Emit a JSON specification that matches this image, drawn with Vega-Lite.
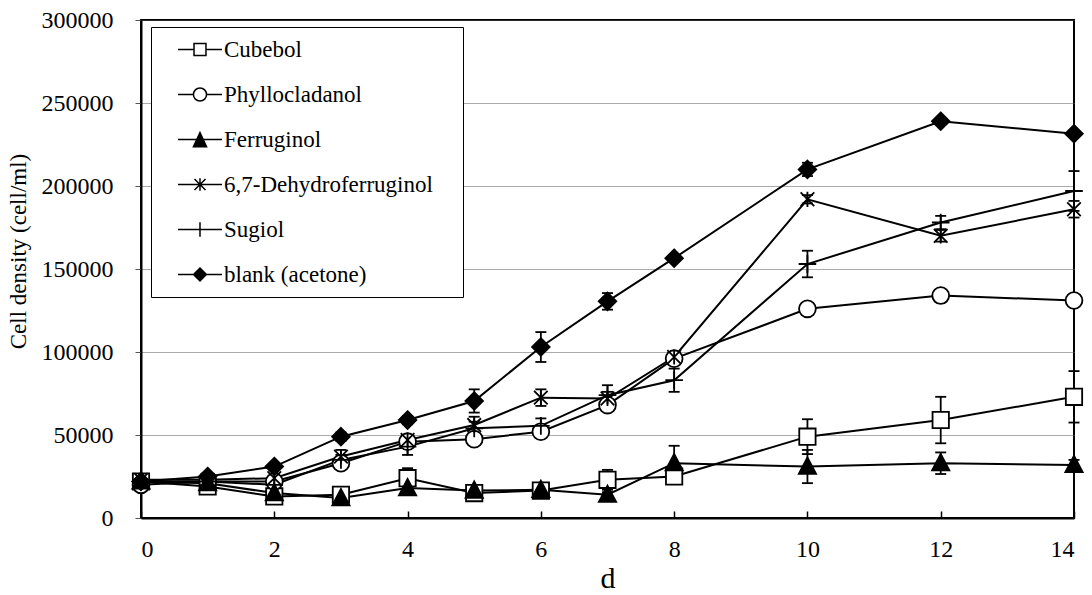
{
  "$schema": "https://vega.github.io/schema/vega-lite/v6.json",
  "width": 933,
  "height": 498,
  "autosize": {"type": "none"},
  "padding": {"left": 141, "top": 20, "right": 18, "bottom": 77},
  "background": "white",
  "datasets": {
    "growth": [
      {"series": "Cubebol", "day": 0, "density": 22000, "lo": 20500, "hi": 23500},
      {"series": "Cubebol", "day": 1, "density": 19000, "lo": 17500, "hi": 20500},
      {"series": "Cubebol", "day": 2, "density": 13000, "lo": 11000, "hi": 15000},
      {"series": "Cubebol", "day": 3, "density": 14000, "lo": 12500, "hi": 15500},
      {"series": "Cubebol", "day": 4, "density": 24000, "lo": 18000, "hi": 30000},
      {"series": "Cubebol", "day": 5, "density": 15000, "lo": 13500, "hi": 16500},
      {"series": "Cubebol", "day": 6, "density": 16500, "lo": 14500, "hi": 18500},
      {"series": "Cubebol", "day": 7, "density": 23000, "lo": 17000, "hi": 29000},
      {"series": "Cubebol", "day": 8, "density": 25000, "lo": 20500, "hi": 29500},
      {"series": "Cubebol", "day": 10, "density": 49000, "lo": 38500, "hi": 59500},
      {"series": "Cubebol", "day": 12, "density": 59000, "lo": 45000, "hi": 73000},
      {"series": "Cubebol", "day": 14, "density": 73000, "lo": 57500, "hi": 88500},

      {"series": "Phyllocladanol", "day": 0, "density": 20000, "lo": 19000, "hi": 21000},
      {"series": "Phyllocladanol", "day": 1, "density": 22000, "lo": 21000, "hi": 23000},
      {"series": "Phyllocladanol", "day": 2, "density": 22000, "lo": 21000, "hi": 23000},
      {"series": "Phyllocladanol", "day": 3, "density": 33000, "lo": 31000, "hi": 35000},
      {"series": "Phyllocladanol", "day": 4, "density": 46000, "lo": 44000, "hi": 48000},
      {"series": "Phyllocladanol", "day": 5, "density": 47500, "lo": 45500, "hi": 49500},
      {"series": "Phyllocladanol", "day": 6, "density": 52000, "lo": 50000, "hi": 54000},
      {"series": "Phyllocladanol", "day": 7, "density": 68000, "lo": 66000, "hi": 70000},
      {"series": "Phyllocladanol", "day": 8, "density": 96000, "lo": 94000, "hi": 98000},
      {"series": "Phyllocladanol", "day": 10, "density": 126000, "lo": 124500, "hi": 127500},
      {"series": "Phyllocladanol", "day": 12, "density": 134000, "lo": 132500, "hi": 135500},
      {"series": "Phyllocladanol", "day": 14, "density": 131000, "lo": 129500, "hi": 132500},

      {"series": "Ferruginol", "day": 0, "density": 22000, "lo": 21000, "hi": 23000},
      {"series": "Ferruginol", "day": 1, "density": 21000, "lo": 20000, "hi": 22000},
      {"series": "Ferruginol", "day": 2, "density": 15000, "lo": 13500, "hi": 16500},
      {"series": "Ferruginol", "day": 3, "density": 12000, "lo": 10500, "hi": 13500},
      {"series": "Ferruginol", "day": 4, "density": 18000, "lo": 16500, "hi": 19500},
      {"series": "Ferruginol", "day": 5, "density": 16500, "lo": 15000, "hi": 18000},
      {"series": "Ferruginol", "day": 6, "density": 17000, "lo": 15500, "hi": 18500},
      {"series": "Ferruginol", "day": 7, "density": 14000, "lo": 12500, "hi": 15500},
      {"series": "Ferruginol", "day": 8, "density": 33000, "lo": 22500, "hi": 43500},
      {"series": "Ferruginol", "day": 10, "density": 31000, "lo": 21000, "hi": 41000},
      {"series": "Ferruginol", "day": 12, "density": 33000, "lo": 26500, "hi": 39500},
      {"series": "Ferruginol", "day": 14, "density": 32000, "lo": 29000, "hi": 35000},

      {"series": "6,7-Dehydroferruginol", "day": 0, "density": 23000, "lo": 22000, "hi": 24000},
      {"series": "6,7-Dehydroferruginol", "day": 1, "density": 23000, "lo": 22000, "hi": 24000},
      {"series": "6,7-Dehydroferruginol", "day": 2, "density": 24000, "lo": 22000, "hi": 26000},
      {"series": "6,7-Dehydroferruginol", "day": 3, "density": 37000, "lo": 33000, "hi": 41000},
      {"series": "6,7-Dehydroferruginol", "day": 4, "density": 47000, "lo": 44000, "hi": 50000},
      {"series": "6,7-Dehydroferruginol", "day": 5, "density": 56000, "lo": 51000, "hi": 61000},
      {"series": "6,7-Dehydroferruginol", "day": 6, "density": 72500, "lo": 67500, "hi": 77500},
      {"series": "6,7-Dehydroferruginol", "day": 7, "density": 72000, "lo": 68000, "hi": 76000},
      {"series": "6,7-Dehydroferruginol", "day": 8, "density": 97000, "lo": 94500, "hi": 99500},
      {"series": "6,7-Dehydroferruginol", "day": 10, "density": 192000, "lo": 189500, "hi": 194500},
      {"series": "6,7-Dehydroferruginol", "day": 12, "density": 170000, "lo": 166500, "hi": 173500},
      {"series": "6,7-Dehydroferruginol", "day": 14, "density": 186000, "lo": 181000, "hi": 191000},

      {"series": "Sugiol", "day": 0, "density": 22000, "lo": 21000, "hi": 23000},
      {"series": "Sugiol", "day": 1, "density": 22000, "lo": 21000, "hi": 23000},
      {"series": "Sugiol", "day": 2, "density": 20000, "lo": 18000, "hi": 22000},
      {"series": "Sugiol", "day": 3, "density": 35000, "lo": 32000, "hi": 38000},
      {"series": "Sugiol", "day": 4, "density": 43000, "lo": 38000, "hi": 48000},
      {"series": "Sugiol", "day": 5, "density": 54000, "lo": 50000, "hi": 58000},
      {"series": "Sugiol", "day": 6, "density": 55500, "lo": 51000, "hi": 60000},
      {"series": "Sugiol", "day": 7, "density": 74000, "lo": 68000, "hi": 80000},
      {"series": "Sugiol", "day": 8, "density": 83000, "lo": 76000, "hi": 90000},
      {"series": "Sugiol", "day": 10, "density": 153000, "lo": 145000, "hi": 161000},
      {"series": "Sugiol", "day": 12, "density": 178000, "lo": 174000, "hi": 182000},
      {"series": "Sugiol", "day": 14, "density": 197000, "lo": 185000, "hi": 209000},

      {"series": "blank (acetone)", "day": 0, "density": 22000, "lo": 21000, "hi": 23000},
      {"series": "blank (acetone)", "day": 1, "density": 25000, "lo": 24000, "hi": 26000},
      {"series": "blank (acetone)", "day": 2, "density": 31000, "lo": 29500, "hi": 32500},
      {"series": "blank (acetone)", "day": 3, "density": 49000, "lo": 46500, "hi": 51500},
      {"series": "blank (acetone)", "day": 4, "density": 59000, "lo": 56500, "hi": 61500},
      {"series": "blank (acetone)", "day": 5, "density": 70500, "lo": 63500, "hi": 77500},
      {"series": "blank (acetone)", "day": 6, "density": 103000, "lo": 94000, "hi": 112000},
      {"series": "blank (acetone)", "day": 7, "density": 130500, "lo": 125500, "hi": 135500},
      {"series": "blank (acetone)", "day": 8, "density": 156500, "lo": 154500, "hi": 158500},
      {"series": "blank (acetone)", "day": 10, "density": 210000, "lo": 206000, "hi": 214000},
      {"series": "blank (acetone)", "day": 12, "density": 239000, "lo": 237500, "hi": 240500},
      {"series": "blank (acetone)", "day": 14, "density": 231500, "lo": 230000, "hi": 233000}
    ]
  },
  "data": {"name": "growth"},
  "encoding": {
    "x": {
      "field": "day",
      "type": "quantitative",
      "title": "d",
      "scale": {"domain": [0, 14], "nice": false},
      "axis": {
        "values": [0, 2, 4, 6, 8, 10, 12, 14],
        "format": "d",
        "grid": false,
        "tickSize": -7,
        "tickColor": "black",
        "tickWidth": 1.5,
        "labelPadding": 26,
        "titlePadding": 2,
        "titleFontSize": 30
      }
    },
    "y": {
      "field": "density",
      "type": "quantitative",
      "title": "Cell density (cell/ml)",
      "scale": {"domain": [0, 300000], "nice": false},
      "axis": {
        "values": [0, 50000, 100000, 150000, 200000, 250000, 300000],
        "format": "d",
        "grid": true,
        "gridColor": "#555555",
        "gridDash": [1, 1],
        "gridWidth": 1,
        "tickSize": 6,
        "tickColor": "#555555",
        "labelPadding": 22,
        "titlePadding": 11,
        "titleFontSize": 23,
        "titleY": 231
      }
    }
  },
  "layer": [
    {
      "mark": {"type": "line", "color": "black", "strokeWidth": 2},
      "encoding": {"detail": {"field": "series", "type": "nominal"}}
    },
    {
      "mark": {"type": "rule", "color": "black", "strokeWidth": 1.8},
      "encoding": {
        "y": {"field": "lo", "type": "quantitative", "title": "Cell density (cell/ml)"},
        "y2": {"field": "hi"}
      }
    },
    {
      "mark": {"type": "point", "shape": "M-1,0H1", "size": 121, "stroke": "black", "strokeWidth": 1.8},
      "encoding": {"y": {"field": "lo", "type": "quantitative", "title": "Cell density (cell/ml)"}}
    },
    {
      "mark": {"type": "point", "shape": "M-1,0H1", "size": 121, "stroke": "black", "strokeWidth": 1.8},
      "encoding": {"y": {"field": "hi", "type": "quantitative", "title": "Cell density (cell/ml)"}}
    },
    {
      "mark": {"type": "point", "filled": true, "stroke": "black", "strokeWidth": 1.8, "size": 256},
      "encoding": {
        "shape": {
          "field": "series",
          "type": "nominal",
          "legend": null,
          "scale": {
            "domain": ["Cubebol", "Phyllocladanol", "Ferruginol", "6,7-Dehydroferruginol", "Sugiol", "blank (acetone)"],
            "range": [
              "M-1.02,-1.02H1.02V1.02H-1.02Z",
              "M1.05,0A1.05,1.05,0,1,1,-1.05,0A1.05,1.05,0,1,1,1.05,0Z",
              "M0,-1.15L1.08,0.9H-1.08Z",
              "M0,-0.95V0.95M-0.85,-0.85L0.85,0.85M-0.85,0.85L0.85,-0.85",
              "M-1.1,0H1.1M0,-1.1V1.1",
              "M0,-1.1L1.1,0L0,1.1L-1.1,0Z"
            ]
          }
        },
        "fill": {
          "field": "series",
          "type": "nominal",
          "legend": null,
          "scale": {
            "domain": ["Cubebol", "Phyllocladanol", "Ferruginol", "6,7-Dehydroferruginol", "Sugiol", "blank (acetone)"],
            "range": ["white", "white", "black", "white", "white", "black"]
          }
        }
      }
    },
    {
      "transform": [{"filter": "datum.day < 0"}],
      "mark": {"type": "point", "filled": true, "stroke": "black", "strokeWidth": 1.8},
      "encoding": {
        "shape": {
          "field": "series",
          "type": "nominal",
          "title": " ",
          "scale": {
            "domain": ["Cubebol", "Phyllocladanol", "Ferruginol", "6,7-Dehydroferruginol", "Sugiol", "blank (acetone)"],
            "range": [
              "M0.391,0H1.784M2.824,0H4.217M1.784,-0.52H2.824V0.52H1.784Z",
              "M0.391,0H1.734M2.874,0H4.217M2.874,0A0.57,0.57,0,1,1,1.734,0A0.57,0.57,0,1,1,2.874,0Z",
              "M0.391,0H4.217M2.304,-0.6L2.874,0.62H1.734Z",
              "M0.391,0H4.217M2.304,-0.55V0.55M1.824,-0.48L2.784,0.48M1.824,0.48L2.784,-0.48",
              "M0.391,0H4.217M2.304,-0.62V0.62",
              "M0.391,0H4.217M2.304,-0.56L2.864,0L2.304,0.56L1.744,0Z"
            ]
          },
          "legend": {
            "orient": "none",
            "legendX": 10,
            "legendY": 7,
            "padding": 10,
            "rowPadding": 20,
            "symbolSize": 529,
            "labelOffset": 38,
            "labelLimit": 400,
            "titleOrient": "right",
            "titlePadding": 20,
            "titleFontSize": 1,
            "strokeColor": "black",
            "fillColor": "white",
            "encode": {
              "symbols": {
                "update": {
                  "stroke": {"value": "black"},
                  "strokeWidth": {"value": 1.8}
                }
              }
            }
          }
        },
        "fill": {
          "field": "series",
          "type": "nominal",
          "title": " ",
          "scale": {
            "domain": ["Cubebol", "Phyllocladanol", "Ferruginol", "6,7-Dehydroferruginol", "Sugiol", "blank (acetone)"],
            "range": ["white", "white", "black", "white", "white", "black"]
          },
          "legend": {
            "orient": "none",
            "legendX": 10,
            "legendY": 7,
            "padding": 10,
            "rowPadding": 20,
            "symbolSize": 529,
            "labelOffset": 38,
            "labelLimit": 400,
            "titleOrient": "right",
            "titlePadding": 20,
            "titleFontSize": 1,
            "strokeColor": "black",
            "fillColor": "white",
            "encode": {
              "symbols": {
                "update": {
                  "stroke": {"value": "black"},
                  "strokeWidth": {"value": 1.8}
                }
              }
            }
          }
        }
      }
    }
  ],
  "resolve": {"scale": {"shape": "independent", "fill": "independent"}},
  "config": {
    "font": "Liberation Serif",
    "view": {"stroke": "black", "strokeWidth": 2},
    "point": {"opacity": 1},
    "axis": {
      "domainColor": "black",
      "domainWidth": 2,
      "labelFont": "Liberation Serif",
      "labelFontSize": 24,
      "labelColor": "black",
      "titleFont": "Liberation Serif",
      "titleFontWeight": "normal",
      "titleColor": "black"
    },
    "legend": {
      "labelFont": "Liberation Serif",
      "labelFontSize": 23,
      "labelColor": "black"
    }
  }
}
